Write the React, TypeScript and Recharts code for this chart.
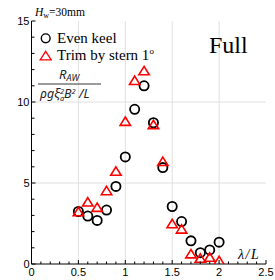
import React from "react";
import {
  ScatterChart,
  Scatter,
  XAxis,
  YAxis,
  ReferenceLine,
} from "recharts";

const lambdaEven = [0.5, 0.6, 0.7, 0.8, 0.9, 1.0, 1.1, 1.2, 1.3, 1.4, 1.5, 1.6, 1.7, 1.8, 1.9, 2.0];
const rawEven = [3.24, 2.96, 2.69, 3.33, 4.79, 6.61, 9.55, 11.0, 8.72, 5.95, 3.55, 2.62, 1.43, 0.7, 0.87, 1.35];

const lambdaTrim = [0.5, 0.6, 0.7, 0.8, 0.9, 1.0, 1.1, 1.2, 1.3, 1.4, 1.5, 1.6, 1.7, 1.8, 1.9, 2.0];
const rawTrim = [3.2, 3.8, 3.47, 4.5, 5.7, 8.78, 11.3, 11.9, 8.58, 6.3, 2.46, 2.13, 0.6, 0.33, 0.39, 0.18];

const xTicks = [0, 0.1, 0.2, 0.3, 0.4, 0.5, 0.6, 0.7, 0.8, 0.9, 1.0, 1.1, 1.2, 1.3, 1.4, 1.5, 1.6, 1.7, 1.8, 1.9, 2.0, 2.1, 2.2, 2.3, 2.4, 2.5];
const xMajor = [0, 0.5, 1, 1.5, 2, 2.5];
const xMajorLabels = ["0", "0.5", "1", "1.5", "2", "2.5"];
const yTicks = [0, 1, 2, 3, 4, 5, 6, 7, 8, 9, 10, 11, 12, 13, 14, 15];
const yMajor = [0, 5, 10, 15];
const yMajorLabels = ["0", "5", "10", "15"];
const xGrid = [0.5, 1, 1.5, 2];
const yGrid = [5, 10];

const evenData = lambdaEven.map((x, i) => ({ x, y: rawEven[i] }));
const trimData = lambdaTrim.map((x, i) => ({ x, y: rawTrim[i] }));

const majorIndex = (arr: number[], v: number) => arr.findIndex((m) => Math.abs(m - v) < 1e-6);

const TICK_FONT = "'Liberation Sans', Arial, sans-serif";
const SERIF = "'Liberation Serif', 'Times New Roman', serif";
const MATH = "'Noto Sans', sans-serif";

const BottomTick = (p: any) => {
  const { x, y, payload } = p;
  const idx = majorIndex(xMajor, payload.value);
  return (
    <g>
      <line x1={x} x2={x} y1={y} y2={y - (idx >= 0 ? 4 : 2.5)} stroke="#000" strokeWidth={1} />
      {idx >= 0 && (
        <text x={x} y={y + 12} textAnchor="middle" fontSize={11} fontFamily={TICK_FONT} fill="#000">
          {xMajorLabels[idx]}
        </text>
      )}
    </g>
  );
};

const TopTick = (p: any) => {
  const { x, y, payload } = p;
  const idx = majorIndex(xMajor, payload.value);
  return <line x1={x} x2={x} y1={y} y2={y + (idx >= 0 ? 4 : 2.5)} stroke="#000" strokeWidth={1} />;
};

const LeftTick = (p: any) => {
  const { x, y, payload } = p;
  const idx = majorIndex(yMajor, payload.value);
  return (
    <g>
      <line x1={x} x2={x + (idx >= 0 ? 4 : 3)} y1={y} y2={y} stroke="#000" strokeWidth={1} />
      {idx >= 0 && (
        <text x={x - 2} y={y + 4} textAnchor="end" fontSize={11} fontFamily={TICK_FONT} fill="#000">
          {yMajorLabels[idx]}
        </text>
      )}
    </g>
  );
};

const RightTick = (p: any) => {
  const { x, y, payload } = p;
  const idx = majorIndex(yMajor, payload.value);
  return <line x1={x} x2={x - (idx >= 0 ? 4 : 3)} y1={y} y2={y} stroke="#000" strokeWidth={1} />;
};

const CircleShape = (p: any) => (
  <circle cx={p.cx} cy={p.cy} r={4.6} fill="none" stroke="#000" strokeWidth={1.8} />
);

const TriShape = (p: any) => {
  const { cx, cy } = p;
  const d = `M${cx},${cy - 4.8} L${cx + 5.2},${cy + 3.6} L${cx - 5.2},${cy + 3.6} Z`;
  return <path d={d} fill="none" stroke="#ff0000" strokeWidth={1.6} strokeLinejoin="miter" />;
};

export default function App() {
  return (
    <div style={{ position: "absolute", left: 0, top: 0, width: 275, height: 280, background: "#fff" }}>
      <ScatterChart width={275} height={280} margin={{ top: 21, right: 9, left: 0, bottom: 0 }}>
        {xGrid.map((v) => (
          <ReferenceLine key={"gx" + v} x={v} xAxisId="b" yAxisId="l" stroke="#e0e0e0" strokeWidth={1} />
        ))}
        {yGrid.map((v) => (
          <ReferenceLine key={"gy" + v} y={v} xAxisId="b" yAxisId="l" stroke="#e0e0e0" strokeWidth={1} />
        ))}
        <XAxis
          xAxisId="b"
          type="number"
          dataKey="x"
          domain={[0, 2.5]}
          ticks={xTicks}
          interval={0}
          height={16}
          tickSize={0}
          tickMargin={0}
          tick={<BottomTick />}
          axisLine={{ stroke: "#000", strokeWidth: 1 }}
          allowDataOverflow
        />
        <XAxis
          xAxisId="t"
          orientation="top"
          type="number"
          dataKey="x"
          domain={[0, 2.5]}
          ticks={xTicks}
          interval={0}
          height={0}
          tickSize={0}
          tickMargin={0}
          tick={<TopTick />}
          axisLine={{ stroke: "#000", strokeWidth: 1 }}
          allowDataOverflow
        />
        <YAxis
          yAxisId="l"
          type="number"
          dataKey="y"
          domain={[0, 15]}
          ticks={yTicks}
          interval={0}
          width={31.5}
          tickSize={0}
          tickMargin={0}
          tick={<LeftTick />}
          axisLine={{ stroke: "#000", strokeWidth: 1 }}
          allowDataOverflow
        />
        <YAxis
          yAxisId="r"
          orientation="right"
          type="number"
          dataKey="y"
          domain={[0, 15]}
          ticks={yTicks}
          interval={0}
          width={0}
          tickSize={0}
          tickMargin={0}
          tick={<RightTick />}
          axisLine={{ stroke: "#000", strokeWidth: 1 }}
          allowDataOverflow
        />
        <Scatter
          name="Even keel"
          data={evenData}
          xAxisId="b"
          yAxisId="l"
          shape={<CircleShape />}
          isAnimationActive={false}
        />
        <Scatter
          name="Trim by stern 1°"
          data={trimData}
          xAxisId="b"
          yAxisId="l"
          shape={<TriShape />}
          isAnimationActive={false}
        />
      </ScatterChart>
      <svg width={275} height={280} style={{ position: "absolute", left: 0, top: 0, pointerEvents: "none" }}>
        {/* top label */}
        <text x={35} y={16} fontFamily={SERIF} fontSize={11.5} fill="#000">
          <tspan fontStyle="italic">H</tspan>
          <tspan fontSize={8} dy={2}>w</tspan>
          <tspan dy={-2}>=30mm</tspan>
        </text>
        {/* legend */}
        <circle cx={45.7} cy={38.3} r={4.4} fill="none" stroke="#000" strokeWidth={1.4} />
        <text x={57} y={42.7} fontFamily={SERIF} fontSize={15} fill="#000">Even keel</text>
        <path d="M45.7,51.3 L51.2,59.8 L40.2,59.8 Z" fill="none" stroke="#ff0000" strokeWidth={1.3} />
        <text x={57} y={59.8} fontFamily={SERIF} fontSize={15} fill="#000">
          Trim by stern 1<tspan fontSize={9} dy={-6}>o</tspan>
        </text>
        {/* Full */}
        <text x={209} y={53.3} fontFamily={SERIF} fontSize={24} fill="#000">Full</text>
        {/* y label fraction */}
        <text x={59} y={78.5} fontFamily={MATH} fontStyle="italic" fontSize={13} fill="#222">
          R<tspan fontSize={9} dy={2}>AW</tspan>
        </text>
        <line x1={38} x2={101} y1={84} y2={84} stroke="#222" strokeWidth={0.9} />
        <text x={40} y={98} fontFamily={MATH} fontStyle="italic" fontSize={12.5} fill="#222">
          ρgξ
          <tspan fontSize={7.5} dy={2.5}>a</tspan>
          <tspan fontSize={7.5} dx={-4.3} dy={-7}>2</tspan>
          <tspan dy={4.5}>B</tspan>
          <tspan fontSize={7.5} dy={-4.5}>2</tspan>
          <tspan dy={4.5}> /L</tspan>
        </text>
        {/* x label */}
        <text x={238} y={259} fontFamily={SERIF} fontStyle="italic" fontSize={14} letterSpacing={1.5} fill="#000">
          λ/L
        </text>
      </svg>
    </div>
  );
}
